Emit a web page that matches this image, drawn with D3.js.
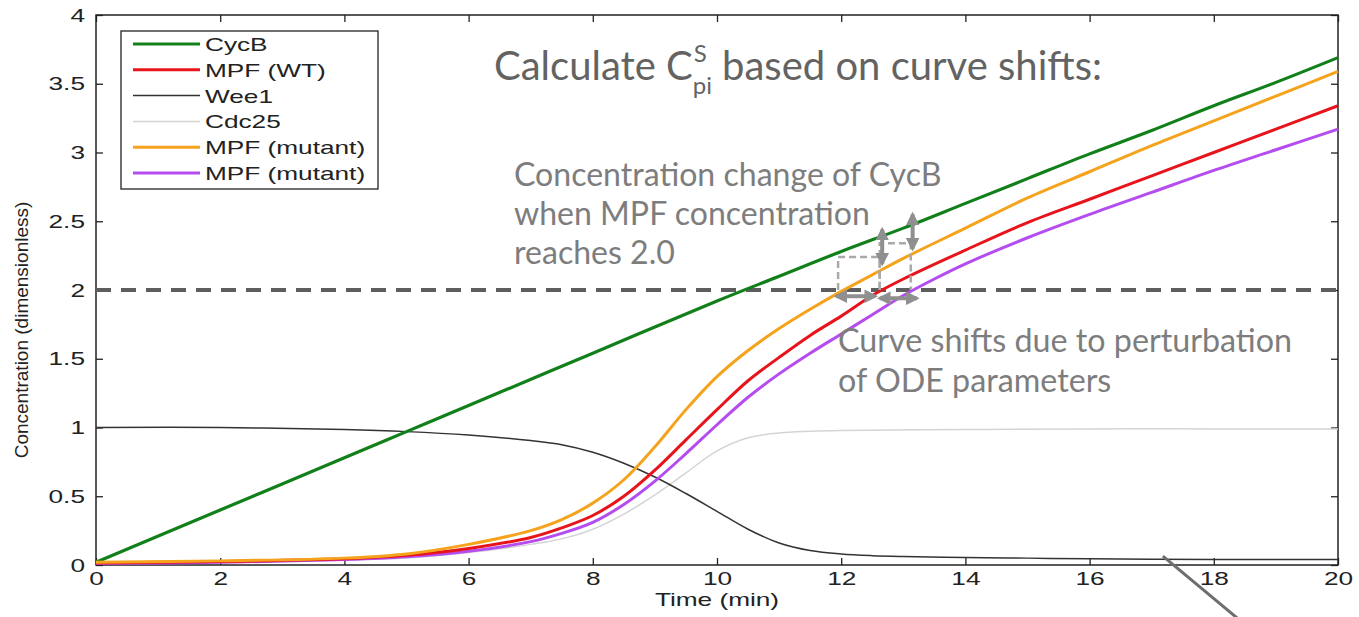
<!DOCTYPE html>
<html>
<head>
<meta charset="utf-8">
<script src="https://cdn.jsdelivr.net/npm/d3@7"></script>
<style>
  html, body { margin: 0; padding: 0; background: #fff; }
  svg { display: block; }
</style>
</head>
<body>
<svg id="chart" width="1359" height="617"></svg>
<script>
// ---- series data (time in min, concentration dimensionless) ----
const cycBTime   = [0, 2, 4, 5, 6, 8, 10, 11, 12, 13, 14, 15, 16, 17, 18, 19, 20];
const cycBValues = [0.02, 0.40, 0.78, 0.97, 1.16, 1.54, 1.92, 2.10, 2.28, 2.45, 2.63, 2.81, 2.99, 3.16, 3.34, 3.51, 3.69];

const mpfWtTime   = [0, 2, 4, 5, 6, 7, 7.5, 8, 8.5, 9, 9.5, 10, 10.5, 11, 11.5, 12, 12.5, 13, 14, 15, 16, 17, 18, 19, 20];
const mpfWtValues = [0.015, 0.025, 0.045, 0.07, 0.12, 0.20, 0.27, 0.36, 0.50, 0.69, 0.91, 1.13, 1.34, 1.51, 1.67, 1.81, 1.96, 2.08, 2.29, 2.49, 2.66, 2.83, 3.0, 3.17, 3.34];

const wee1Time   = [0, 2, 4, 5, 6, 7, 7.5, 8, 8.5, 9, 9.5, 10, 10.5, 11, 11.5, 12, 12.5, 13, 14, 15, 16, 17, 18, 19, 20];
const wee1Values = [1.0, 1.0, 0.985, 0.97, 0.945, 0.905, 0.875, 0.82, 0.74, 0.64, 0.52, 0.39, 0.26, 0.16, 0.105, 0.08, 0.068, 0.062, 0.055, 0.05, 0.045, 0.042, 0.04, 0.04, 0.04];

const cdc25Time   = [0, 2, 4, 5, 6, 7, 7.5, 8, 8.5, 9, 9.5, 10, 10.5, 11, 11.5, 12, 14, 16, 18, 20];
const cdc25Values = [0.01, 0.02, 0.035, 0.05, 0.09, 0.15, 0.19, 0.26, 0.37, 0.51, 0.67, 0.83, 0.925, 0.96, 0.972, 0.978, 0.985, 0.99, 0.99, 0.99];

const mpfMutATime   = [0, 2, 4, 5, 6, 7, 7.5, 8, 8.5, 9, 9.5, 10, 10.5, 11, 11.5, 12, 12.5, 13, 14, 15, 16, 17, 18, 19, 20];
const mpfMutAValues = [0.02, 0.03, 0.05, 0.08, 0.15, 0.25, 0.33, 0.45, 0.62, 0.86, 1.13, 1.37, 1.56, 1.72, 1.86, 1.99, 2.11, 2.23, 2.45, 2.67, 2.86, 3.05, 3.23, 3.41, 3.59];

const mpfMutBTime   = [0, 2, 4, 5, 6, 7, 7.5, 8, 8.5, 9, 9.5, 10, 10.5, 11, 11.5, 12, 12.5, 13, 13.5, 14, 15, 16, 17, 18, 19, 20];
const mpfMutBValues = [0.01, 0.02, 0.04, 0.06, 0.10, 0.17, 0.23, 0.31, 0.44, 0.61, 0.81, 1.02, 1.22, 1.39, 1.54, 1.68, 1.82, 1.96, 2.08, 2.19, 2.38, 2.55, 2.71, 2.87, 3.02, 3.17];

// legend labels, in drawing order
const seriesLabels = ["CycB", "MPF (WT)", "Wee1", "Cdc25", "MPF (mutant)", "MPF (mutant)"];

// axis ticks
const xTicks = [0, 2, 4, 6, 8, 10, 12, 14, 16, 18, 20];
const yTicks = [0, 0.5, 1, 1.5, 2, 2.5, 3, 3.5, 4];

// threshold and curve-shift markers (time, concentration)
const thresholdLevel = 2.0;
const shiftBoxes = [
  { t0: 11.95, t1: 12.62, v0: 2.0, v1: 2.24 },
  { t0: 12.62, t1: 13.12, v0: 2.0, v1: 2.34 }
];
const cycBArrows  = [ { t: 12.66, v0: 2.44, v1: 2.19 }, { t: 13.15, v0: 2.55, v1: 2.30 } ];
const shiftArrows = [ { v: 1.955, t0: 11.92, t1: 12.55 }, { v: 1.94, t0: 12.62, t1: 13.22 } ];
const pointerLine = [ { t: 17.18, v: 0.065 }, { t: 18.6, v: -0.47 } ];

// ---- styling ----
const series = [
  { t: cycBTime,    v: cycBValues,    color: "#12801a", width: 3.2 },
  { t: mpfWtTime,   v: mpfWtValues,   color: "#e8141c", width: 3.0 },
  { t: wee1Time,    v: wee1Values,    color: "#333333", width: 1.5 },
  { t: cdc25Time,   v: cdc25Values,   color: "#d4d4d4", width: 1.5 },
  { t: mpfMutATime, v: mpfMutAValues, color: "#f5a31c", width: 3.0 },
  { t: mpfMutBTime, v: mpfMutBValues, color: "#b54cf0", width: 3.0 }
];
const drawOrder = [3, 2, 0, 5, 1, 4];

const SX = 1.38;                      // wide-glyph text stretch
const axisFont = "'Liberation Sans', Arial, sans-serif";
const noteFont = "Lato, 'Open Sans', sans-serif";

const svg = d3.select("#chart");
const plotLeft = 96, plotRight = 1338, plotTop = 15, plotBottom = 565;

const x = d3.scaleLinear().domain([0, 20]).range([plotLeft, plotRight]);
const y = d3.scaleLinear().domain([0, 4]).range([plotBottom, plotTop]);

// ---- axes box with inward ticks ----
const axisStyle = g => {
  g.select(".domain").remove();
  g.selectAll(".tick line").attr("stroke", "#222").attr("stroke-width", 1.3);
};

svg.append("g")
  .attr("transform", `translate(0,${plotBottom})`)
  .call(d3.axisBottom(x).tickValues(xTicks).tickSize(-7).tickPadding(7).tickFormat(d3.format("d")))
  .call(axisStyle)
  .call(g => g.selectAll("text")
      .attr("font-family", axisFont).attr("font-size", 19).attr("fill", "#222")
      .attr("transform", `scale(${SX},1)`));

svg.append("g")
  .attr("transform", `translate(0,${plotTop})`)
  .call(d3.axisTop(x).tickValues(xTicks).tickSize(-7).tickFormat(""))
  .call(axisStyle);

svg.append("g")
  .attr("transform", `translate(${plotLeft},0)`)
  .call(d3.axisLeft(y).tickValues(yTicks).tickSize(-7).tickPadding(8).tickFormat(d3.format("~g")))
  .call(axisStyle)
  .call(g => g.selectAll("text")
      .attr("font-family", axisFont).attr("font-size", 19).attr("fill", "#222")
      .attr("transform", `scale(${SX},1)`));

svg.append("g")
  .attr("transform", `translate(${plotRight},0)`)
  .call(d3.axisRight(y).tickValues(yTicks).tickSize(-7).tickFormat(""))
  .call(axisStyle);

svg.append("rect")
  .attr("x", plotLeft).attr("y", plotTop)
  .attr("width", plotRight - plotLeft).attr("height", plotBottom - plotTop)
  .attr("fill", "none").attr("stroke", "#222").attr("stroke-width", 1.5);

// axis titles
svg.append("text")
  .attr("transform", `translate(${(plotLeft + plotRight) / 2},606) scale(${SX},1)`)
  .attr("text-anchor", "middle")
  .attr("font-family", axisFont).attr("font-size", 19).attr("fill", "#222")
  .text("Time (min)");

svg.append("text")
  .attr("transform", `translate(28,330) rotate(-90)`)
  .attr("text-anchor", "middle")
  .attr("font-family", axisFont).attr("font-size", 19).attr("fill", "#222")
  .text("Concentration (dimensionless)");

// ---- threshold line ----
svg.append("line")
  .attr("x1", x(0)).attr("x2", x(20))
  .attr("y1", y(thresholdLevel)).attr("y2", y(thresholdLevel))
  .attr("stroke", "#5e5e5e").attr("stroke-width", 4)
  .attr("stroke-dasharray", "15,10");

// ---- curves ----
const line = d3.line().curve(d3.curveCatmullRom.alpha(0.5));
drawOrder.forEach(i => {
  const s = series[i];
  svg.append("path")
    .attr("d", line(s.t.map((t, k) => [x(t), y(s.v[k])])))
    .attr("fill", "none")
    .attr("stroke", s.color)
    .attr("stroke-width", s.width)
    .attr("stroke-linejoin", "round");
});

// ---- legend ----
const lg = svg.append("g");
lg.append("rect")
  .attr("x", 121).attr("y", 31).attr("width", 257).attr("height", 158)
  .attr("fill", "#fff").attr("stroke", "#222").attr("stroke-width", 1.3);
seriesLabels.forEach((label, i) => {
  const yy = 44 + i * 25.8;
  lg.append("line")
    .attr("x1", 133).attr("x2", 200).attr("y1", yy).attr("y2", yy)
    .attr("stroke", series[i].color)
    .attr("stroke-width", i === 2 || i === 3 ? 1.5 : 3);
  lg.append("text")
    .attr("transform", `translate(205,${yy + 7}) scale(${SX},1)`)
    .attr("font-family", axisFont).attr("font-size", 19).attr("fill", "#222")
    .text(label);
});

// ---- curve-shift markers ----
const defs = svg.append("defs");
defs.append("marker")
  .attr("id", "head").attr("viewBox", "0 0 10 10")
  .attr("refX", 8).attr("refY", 5)
  .attr("markerWidth", 3.4).attr("markerHeight", 3.4)
  .attr("orient", "auto-start-reverse")
  .append("path").attr("d", "M0,0 L10,5 L0,10 Z").attr("fill", "#8f8f8f");

shiftBoxes.forEach(b => {
  svg.append("path")
    .attr("d", `M${x(b.t0)},${y(b.v0)} V${y(b.v1)} H${x(b.t1)} V${y(b.v0)}`)
    .attr("fill", "none").attr("stroke", "#a9a9a9")
    .attr("stroke-width", 2.5).attr("stroke-dasharray", "7,4");
});
cycBArrows.forEach(a => {
  svg.append("line")
    .attr("x1", x(a.t)).attr("x2", x(a.t))
    .attr("y1", y(a.v0)).attr("y2", y(a.v1))
    .attr("stroke", "#8f8f8f").attr("stroke-width", 4)
    .attr("marker-start", "url(#head)").attr("marker-end", "url(#head)");
});
shiftArrows.forEach(a => {
  svg.append("line")
    .attr("x1", x(a.t0)).attr("x2", x(a.t1))
    .attr("y1", y(a.v)).attr("y2", y(a.v))
    .attr("stroke", "#8f8f8f").attr("stroke-width", 4)
    .attr("marker-start", "url(#head)").attr("marker-end", "url(#head)");
});

svg.append("line")
  .attr("x1", x(pointerLine[0].t)).attr("y1", y(pointerLine[0].v))
  .attr("x2", x(pointerLine[1].t)).attr("y2", y(pointerLine[1].v))
  .attr("stroke", "#6e6e6e").attr("stroke-width", 3);

// ---- notes: one font size per block, set from a reference line's width ----
function noteBlock(lines, xx, y0, lineGap, refIndex, refWidth, color) {
  const texts = lines.map((str, i) => svg.append("text")
    .attr("x", xx).attr("y", y0 + i * lineGap)
    .attr("font-family", noteFont).attr("font-size", 30)
    .attr("fill", color)
    .text(str));
  const w = texts[refIndex].node().getComputedTextLength();
  texts.forEach(t => t.attr("font-size", 30 * refWidth / w));
}

// heading with stacked super/subscript
const headSize = 40, headColor = "#636363", headX = 494, headY = 80;
const h1 = svg.append("text")
  .attr("x", headX).attr("y", headY)
  .attr("font-family", noteFont).attr("font-size", headSize).attr("fill", headColor)
  .text("Calculate C");
const h1w = h1.node().getComputedTextLength();
const sup = svg.append("text")
  .attr("x", headX + h1w + 1).attr("y", headY - 18)
  .attr("font-family", noteFont).attr("font-size", headSize * 0.6).attr("fill", headColor)
  .text("S");
const sub = svg.append("text")
  .attr("x", headX + h1w).attr("y", headY + 14)
  .attr("font-family", noteFont).attr("font-size", headSize * 0.6).attr("fill", headColor)
  .text("pi");
const scriptW = Math.max(sup.node().getComputedTextLength(), sub.node().getComputedTextLength());
svg.append("text")
  .attr("x", headX + h1w + scriptW + 10).attr("y", headY)
  .attr("font-family", noteFont).attr("font-size", headSize).attr("fill", headColor)
  .text("based on curve shifts:");

const noteColor = "#7d7d7d";
noteBlock(["Concentration change of CycB", "when MPF concentration", "reaches 2.0"],
          514, 186, 39, 1, 356, noteColor);
noteBlock(["Curve shifts due to perturbation", "of ODE parameters"],
          838, 352, 40, 0, 454, noteColor);
</script>
</body>
</html>
